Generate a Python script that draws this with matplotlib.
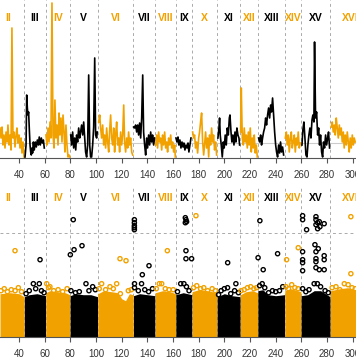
import numpy as np
import matplotlib.pyplot as plt
from matplotlib import transforms

plt.rcParams['font.family'] = ['Liberation Sans', 'DejaVu Sans']

ORANGE = '#F2A200'

chrom_names = ['II', 'III', 'IV', 'V', 'VI', 'VII', 'VIII', 'IX', 'X',
               'XI', 'XII', 'XIII', 'XIV', 'XV', 'XVI']
chrom_start = [19.3, 44.1, 60.8, 79.7, 101.3, 129.1, 146.0, 162.1, 174.8,
               194.3, 212.4, 226.0, 247.0, 259.7, 282.5]
chrom_end = chrom_start[1:] + [313.0]

# top panel: scan profile
scan_pos = [
    25.2, 26.0, 26.8, 27.5, 28.3, 29.1, 29.9, 30.7, 31.4, 32.2, 33.0, 33.8, 34.5, 35.3, 36.1, 36.9, 37.7, 38.4, 39.2, 40.0, 40.8, 41.6, 42.3, 43.1, 43.9,
    44.7, 45.5, 46.0, 46.5, 47.0, 47.5, 48.0, 48.6, 49.1, 49.6, 50.1, 50.6, 51.2, 51.9, 52.7, 53.5, 54.3, 55.1, 55.8, 56.6, 57.4, 58.2, 59.0, 59.7,
    61.0, 61.8, 62.6, 63.4, 64.2, 64.9, 65.7, 66.5, 67.3, 68.0, 68.8, 69.6, 70.4, 71.2, 71.9, 72.7, 73.5, 74.3, 75.1, 75.8, 76.6, 77.4, 78.2, 79.0, 79.5,
    80.3, 81.0, 81.8, 82.6, 83.4, 84.2, 84.9, 85.7, 86.5, 87.3, 88.0, 88.8, 89.6, 90.4, 91.2, 91.9, 92.7, 93.5, 94.3, 95.1, 95.8, 96.6, 97.4, 98.2, 99.0, 99.7, 100.5, 101.0,
    102.1, 102.9, 103.6, 104.4, 105.2, 106.0, 106.7, 107.5, 108.3, 109.1, 109.9, 110.6, 111.4, 112.2, 113.0, 113.8, 114.5, 115.3, 116.1, 116.9, 117.7, 118.4, 119.2, 120.0, 120.8, 121.6, 122.3, 123.1, 123.9, 124.7, 125.4, 126.2, 127.0, 127.8, 128.6,
    129.3, 130.1, 130.9, 131.7, 132.5, 133.2, 134.0, 134.8, 135.6, 136.4, 137.1, 137.9, 138.7, 139.5, 140.2, 141.0, 141.8, 142.6, 143.4, 144.1, 144.9, 145.7,
    146.5, 147.3, 148.0, 148.8, 149.6, 150.4, 151.2, 151.9, 152.7, 153.5, 154.3, 155.1, 155.8, 156.6, 157.4, 158.2, 159.0, 159.7, 160.5, 161.3, 161.8,
    162.3, 163.1, 163.9, 164.6, 165.4, 166.2, 167.0, 167.8, 168.5, 169.3, 170.1, 170.9, 171.7, 172.4, 173.2, 174.0,
    175.3, 176.1, 176.8, 177.6, 178.4, 179.2, 180.0, 180.7, 181.5, 182.3, 183.1, 183.9, 184.6, 185.4, 186.2, 187.0, 187.8, 188.5, 189.3, 190.1, 190.9, 191.6, 192.4, 193.2, 194.0,
    195.0, 195.8, 196.3, 196.8, 197.6, 198.4, 199.2, 199.9, 200.7, 201.5, 202.3, 203.1, 203.9, 204.4, 205.2, 205.9, 206.7, 207.5, 208.3, 209.0, 209.8, 210.6, 211.4, 211.9,
    212.7, 213.2, 214.0, 214.8, 215.5, 216.3, 217.1, 217.9, 218.7, 219.4, 220.2, 221.0, 221.8, 222.6, 223.3, 224.1, 224.9, 225.7,
    226.7, 227.5, 228.3, 229.0, 229.8, 230.6, 231.4, 232.2, 232.9, 233.7, 234.5, 235.3, 236.1, 236.8, 237.6, 238.4, 239.2, 240.0, 240.7, 241.5, 242.3, 243.1, 243.8, 244.6, 245.4, 246.2,
    247.5, 248.3, 249.0, 249.8, 250.6, 251.4, 252.2, 252.9, 253.7, 254.5, 255.3, 256.1, 256.8, 257.6, 258.4, 259.2,
    260.5, 261.2, 262.0, 262.8, 263.6, 264.4, 265.1, 265.9, 266.7, 267.5, 268.3, 269.0, 269.8, 270.3, 271.1, 271.9, 272.7, 273.5, 274.2, 275.0, 275.8, 276.6, 277.3, 278.1, 278.9, 279.7, 280.5, 281.2, 282.0,
    283.3, 284.1, 284.9, 285.7, 286.4, 287.2, 288.0, 288.8, 289.6, 290.3, 291.1, 291.9, 292.7, 293.4, 294.2, 295.0, 295.8, 296.6, 297.3, 298.1, 298.9, 299.7, 300.5, 301.2, 302.0,
]
scan_lod = [
    3.0, 2.0, 3.1, 1.3, 2.3, 1.0, 2.6, 1.6, 3.3, 1.3, 2.3, 0.8, 13.0, 2.0, 2.6, 1.1, 2.3, 3.0, 1.5, 2.3, 1.0, 2.0, 0.5, 1.6, 0.1,
    0.1, 1.3, 6.3, 5.0, 4.3, 4.6, 3.0, 1.3, 0.6, 0.3, 1.0, 0.5, 1.6, 0.8, 1.6, 1.1, 1.8, 1.3, 2.1, 1.3, 2.0, 1.5, 1.8, 1.0,
    2.3, 1.3, 3.0, 1.6, 3.6, 2.0, 15.5, 2.3, 1.0, 5.8, 2.0, 3.3, 1.3, 4.5, 2.3, 4.0, 1.6, 4.3, 2.6, 0.6, 3.3, 1.3, 0.1, 0.3, 0.1,
    2.3, 1.3, 2.6, 1.0, 2.0, 0.8, 2.3, 1.6, 3.0, 2.0, 2.6, 3.3, 2.3, 3.6, 2.0, 0.6, 0.1, 1.3, 8.3, 1.3, 0.1, 0.1, 1.3, 3.1, 10.0, 2.3, 2.0, 2.6,
    3.6, 4.3, 3.0, 2.0, 3.3, 1.3, 2.3, 1.0, 3.0, 1.6, 0.6, 2.6, 4.3, 2.0, 1.3, 3.0, 0.6, 2.3, 3.6, 1.3, 2.0, 0.6, 2.6, 1.3, 2.3, 5.3, 1.6, 0.6, 2.0, 1.0, 2.6, 1.3, 2.0, 0.6, 0.3,
    3.1, 3.0, 3.3, 2.6, 3.3, 2.3, 3.5, 2.0, 4.0, 8.3, 2.6, 1.3, 0.3, 2.0, 1.0, 2.3, 1.3, 2.6, 1.6, 2.3, 1.3, 2.0,
    1.3, 2.3, 1.0, 2.6, 1.6, 2.0, 0.8, 2.3, 1.3, 2.6, 1.0, 1.6, 0.6, 2.0, 1.3, 2.3, 1.0, 1.6, 0.6, 1.3, 0.1,
    2.0, 1.6, 2.1, 1.3, 1.8, 1.0, 1.6, 1.1, 1.5, 0.8, 1.3, 1.0, 1.5, 0.6, 1.3, 2.0,
    2.6, 2.0, 2.3, 1.0, 1.6, 0.5, 2.0, 2.6, 3.6, 4.5, 1.6, 0.3, 1.3, 2.6, 1.0, 2.0, 0.1, 2.3, 1.3, 3.0, 1.6, 2.3, 0.8, 1.6, 0.3,
    2.0, 3.0, 4.0, 2.3, 1.3, 0.1, 1.6, 1.0, 2.3, 1.3, 3.0, 2.3, 4.0, 4.3, 2.6, 1.6, 2.3, 1.3, 2.6, 1.6, 3.0, 2.3, 2.0, 1.3,
    2.6, 7.0, 2.0, 1.3, 3.0, 1.6, 2.3, 1.0, 2.6, 1.3, 3.0, 0.6, 2.0, 1.0, 2.3, 0.5, 1.3, 0.1,
    2.0, 1.6, 2.3, 1.3, 2.0, 2.6, 3.0, 4.0, 3.3, 4.3, 5.0, 4.0, 5.3, 4.6, 6.0, 4.3, 2.6, 1.3, 0.6, 0.1, 1.3, 0.5, 1.6, 0.6, 1.1, 0.3,
    2.0, 2.6, 1.3, 2.3, 0.6, 2.0, 2.6, 1.0, 1.6, 2.3, 0.6, 2.0, 1.3, 2.6, 1.0, 1.5,
    1.3, 2.8, 3.6, 2.0, 0.3, 0.1, 1.3, 2.3, 3.0, 2.0, 3.8, 4.3, 3.6, 11.6, 4.0, 4.6, 2.3, 3.0, 1.3, 2.3, 0.6, 0.1, 1.6, 1.0, 2.3, 1.3, 2.0, 2.6, 1.0,
    3.1, 3.6, 2.6, 3.3, 2.3, 4.0, 3.0, 2.0, 3.3, 2.3, 3.0, 1.6, 2.6, 1.0, 2.3, 1.3, 2.6, 1.6, 0.6, 2.0, 1.0, 2.3, 1.3, 2.0, 1.6,
]
scan_threshold = 1.5

# bottom panel: top outline of the dense marker band
band_pos = [25.2, 33.0, 40.0, 44.0,
            44.2, 48.0, 54.0, 60.7,
            60.9, 64.0, 70.0, 76.0, 79.6,
            79.8, 84.0, 90.0, 96.0, 101.2,
            101.4, 106.0, 112.0, 117.0, 120.0, 123.0, 126.0, 129.0,
            129.2, 134.0, 140.0, 145.9,
            146.1, 152.0, 158.0, 162.0,
            162.2, 168.0, 174.7,
            174.9, 180.0, 187.0, 194.2,
            194.4, 200.0, 206.0, 212.3,
            212.5, 217.0, 222.0, 225.9,
            226.1, 230.0, 234.0, 240.0, 246.9,
            247.1, 252.0, 259.6,
            259.8, 265.0, 270.0, 275.0, 282.4,
            282.6, 290.0, 296.0, 302.6]
band_top = [4.3, 4.4, 4.3, 4.0,
            4.0, 4.2, 4.3, 4.1,
            4.4, 4.6, 4.5, 4.4, 4.2,
            4.1, 4.3, 4.2, 4.2, 4.0,
            4.3, 4.6, 4.5, 4.4, 3.8, 3.6, 4.3, 4.2,
            4.1, 4.3, 4.2, 4.1,
            4.4, 4.6, 4.5, 4.3,
            4.2, 4.4, 4.2,
            4.5, 4.7, 4.6, 4.4,
            4.0, 4.3, 4.1, 4.0,
            4.2, 4.5, 4.6, 4.4,
            4.6, 4.7, 4.2, 4.1, 4.2,
            4.6, 4.8, 4.5,
            4.1, 4.2, 4.6, 4.6, 4.0,
            4.6, 4.8, 4.9, 4.7]

# markers sitting on the top of the band
edge_pos = [26.0, 28.5, 31.0, 34.0, 37.0, 39.5, 42.0,
            45.5, 48.0, 51.2, 53.0, 55.8, 57.5, 59.5,
            61.6, 63.0, 64.1, 67.0, 70.5, 74.0, 77.5,
            80.5, 84.0, 87.0, 92.2, 94.5, 97.4, 99.5,
            102.5, 104.4, 107.5, 110.9, 113.5, 116.1, 119.0, 125.2, 127.5,
            130.0, 130.0, 133.0, 135.5, 138.0, 141.0, 144.0,
            147.0, 149.3, 151.2, 154.0, 157.0, 160.2,
            163.5, 166.0, 168.5, 170.5, 172.5,
            176.0, 178.5, 181.5, 184.0, 187.0, 190.5, 193.0,
            195.5, 197.5, 200.0, 202.5, 205.0, 208.0, 209.0, 211.0,
            213.0, 215.5, 218.0, 220.5, 223.0, 225.0,
            227.5, 229.5, 231.5, 234.5, 237.5, 240.0, 243.0, 245.5,
            248.0, 250.0, 252.5, 255.0, 257.5,
            261.0, 263.5, 266.0, 270.0, 272.5, 275.0, 278.5, 281.0,
            284.0, 287.0, 290.0, 293.5, 296.5, 299.5, 302.0]
edge_val = [4.6, 4.8, 4.5, 4.7, 4.6, 4.9, 4.5,
            4.3, 4.6, 5.3, 4.8, 5.3, 4.6, 4.4,
            5.3, 4.9, 5.0, 4.6, 4.7, 4.5, 4.8,
            4.6, 4.4, 4.5, 5.3, 4.6, 5.0, 4.7,
            4.8, 5.3, 4.7, 5.0, 4.8, 5.3, 4.3, 4.6, 4.7,
            5.3, 4.9, 4.6, 5.3, 4.7, 4.5, 4.8,
            4.8, 5.3, 5.3, 4.8, 4.7, 4.7,
            4.5, 5.3, 5.3, 5.0, 4.6,
            4.9, 5.1, 4.8, 4.9, 4.6, 4.8, 4.6,
            4.2, 4.6, 4.8, 4.9, 4.3, 4.6, 5.3, 4.4,
            4.6, 4.7, 4.9, 5.0, 4.8, 4.9,
            5.1, 5.3, 4.9, 4.4, 4.6, 4.5, 4.6, 5.0,
            5.0, 4.8, 5.2, 4.9, 4.8,
            4.8, 4.5, 4.7, 5.3, 5.3, 5.0, 4.6, 4.4,
            4.9, 5.0, 4.7, 5.3, 5.2, 4.9, 4.8]

# isolated high markers
hit_pos = [36.9, 56.4, 80.0, 82.3, 82.9, 89.1, 118.7, 123.4,
           129.9, 129.9, 129.9, 129.9, 129.9, 136.1, 141.3, 155.6,
           169.6, 170.1, 170.6, 169.6, 177.9, 170.1, 170.1, 174.5, 202.6,
           227.7, 226.3, 230.3, 241.5, 248.5, 257.6,
           261.0, 261.0, 264.1, 271.4, 271.4, 272.7, 274.0, 274.5, 277.8, 271.4, 272.7,
           261.0, 261.0, 261.0, 261.0, 270.6, 273.2, 271.4, 271.4, 271.4,
           277.8, 277.8, 271.4, 274.0, 277.8,
           298.6, 298.6]
hit_val = [8.6, 7.7, 8.2, 11.7, 8.7, 9.1, 7.8, 7.6,
           11.7, 11.4, 11.1, 10.9, 10.7, 6.2, 7.1, 8.6,
           11.9, 11.7, 11.5, 11.4, 12.1, 8.6, 7.8, 7.8, 7.4,
           11.6, 7.9, 6.7, 8.3, 7.7, 8.9,
           12.1, 11.7, 10.7, 12.0, 11.7, 11.4, 11.5, 11.0, 11.3, 11.2, 10.8,
           8.5, 7.7, 7.4, 6.6, 9.2, 8.8, 8.5, 7.8, 7.5,
           8.1, 7.7, 6.9, 6.7, 6.7,
           12.0, 6.3]
hit_threshold = 10.4

ticks = np.arange(40, 301, 20)


def chrom_color(i):
    # II is index 0 -> even chromosomes orange
    return ORANGE if i % 2 == 0 else 'black'


def colors_for(pos):
    idx = np.searchsorted(chrom_start, pos, side='right') - 1
    return [chrom_color(i) for i in idx]


def style_axis(ax, ymax, label_y):
    ax.set_xlim(25.2, 302.6)
    ax.set_ylim(0, ymax)
    for s in ['top', 'left', 'right']:
        ax.spines[s].set_visible(False)
    ax.spines['bottom'].set_color('#555555')
    ax.spines['bottom'].set_linewidth(0.8)
    ax.set_yticks([])
    ax.set_xticks(ticks)
    ax.tick_params(axis='x', length=3.5, width=0.8, color='#555555',
                   labelsize=7, labelcolor='#333333', pad=5)
    trans = transforms.blended_transform_factory(ax.transData, ax.transAxes)
    for i, name in enumerate(chrom_names):
        if i > 0:
            ax.axvline(chrom_start[i], color='#aaaaaa', lw=0.7,
                       ls=(0, (3, 3)), zorder=1)
        mid = (chrom_start[i] + chrom_end[i]) / 2
        ax.text(mid, label_y, name, transform=trans, ha='center', va='center',
                fontsize=7.5, fontweight='bold', color=chrom_color(i))


fig = plt.figure(figsize=(3.56, 3.64), dpi=100)
ax1 = fig.add_axes([0, 206 / 364, 1, 158 / 364])
ax2 = fig.add_axes([0, 27.3 / 364, 1, 148.7 / 364])

# top panel
style_axis(ax1, 15.8, 0.889)
ax1.axhline(scan_threshold, color='#cccccc', lw=0.8, zorder=1)
pos = np.array(scan_pos)
lod = np.array(scan_lod)
for i in range(len(chrom_names)):
    m = (pos >= chrom_start[i]) & (pos < chrom_end[i])
    if m.any():
        ax1.plot(pos[m], lod[m], color=chrom_color(i), lw=1.2, zorder=3)

# bottom panel
style_axis(ax2, 14.87, 0.933)
ax2.axhline(hit_threshold, color='#aaaaaa', lw=0.7, ls=(0, (3, 3)), zorder=1)
bpos = np.array(band_pos)
btop = np.array(band_top)
for i in range(len(chrom_names)):
    m = (bpos >= chrom_start[i]) & (bpos < chrom_end[i])
    if m.any():
        ax2.fill_between(bpos[m], 0, btop[m], color=chrom_color(i), lw=0, zorder=2)
ax2.scatter(edge_pos, edge_val, s=9, facecolors='none',
            edgecolors=colors_for(edge_pos), linewidths=1.0, zorder=3)
ax2.scatter(hit_pos, hit_val, s=9, facecolors='none',
            edgecolors=colors_for(hit_pos), linewidths=1.0, zorder=3)

fig.savefig('out.png', dpi=100)
